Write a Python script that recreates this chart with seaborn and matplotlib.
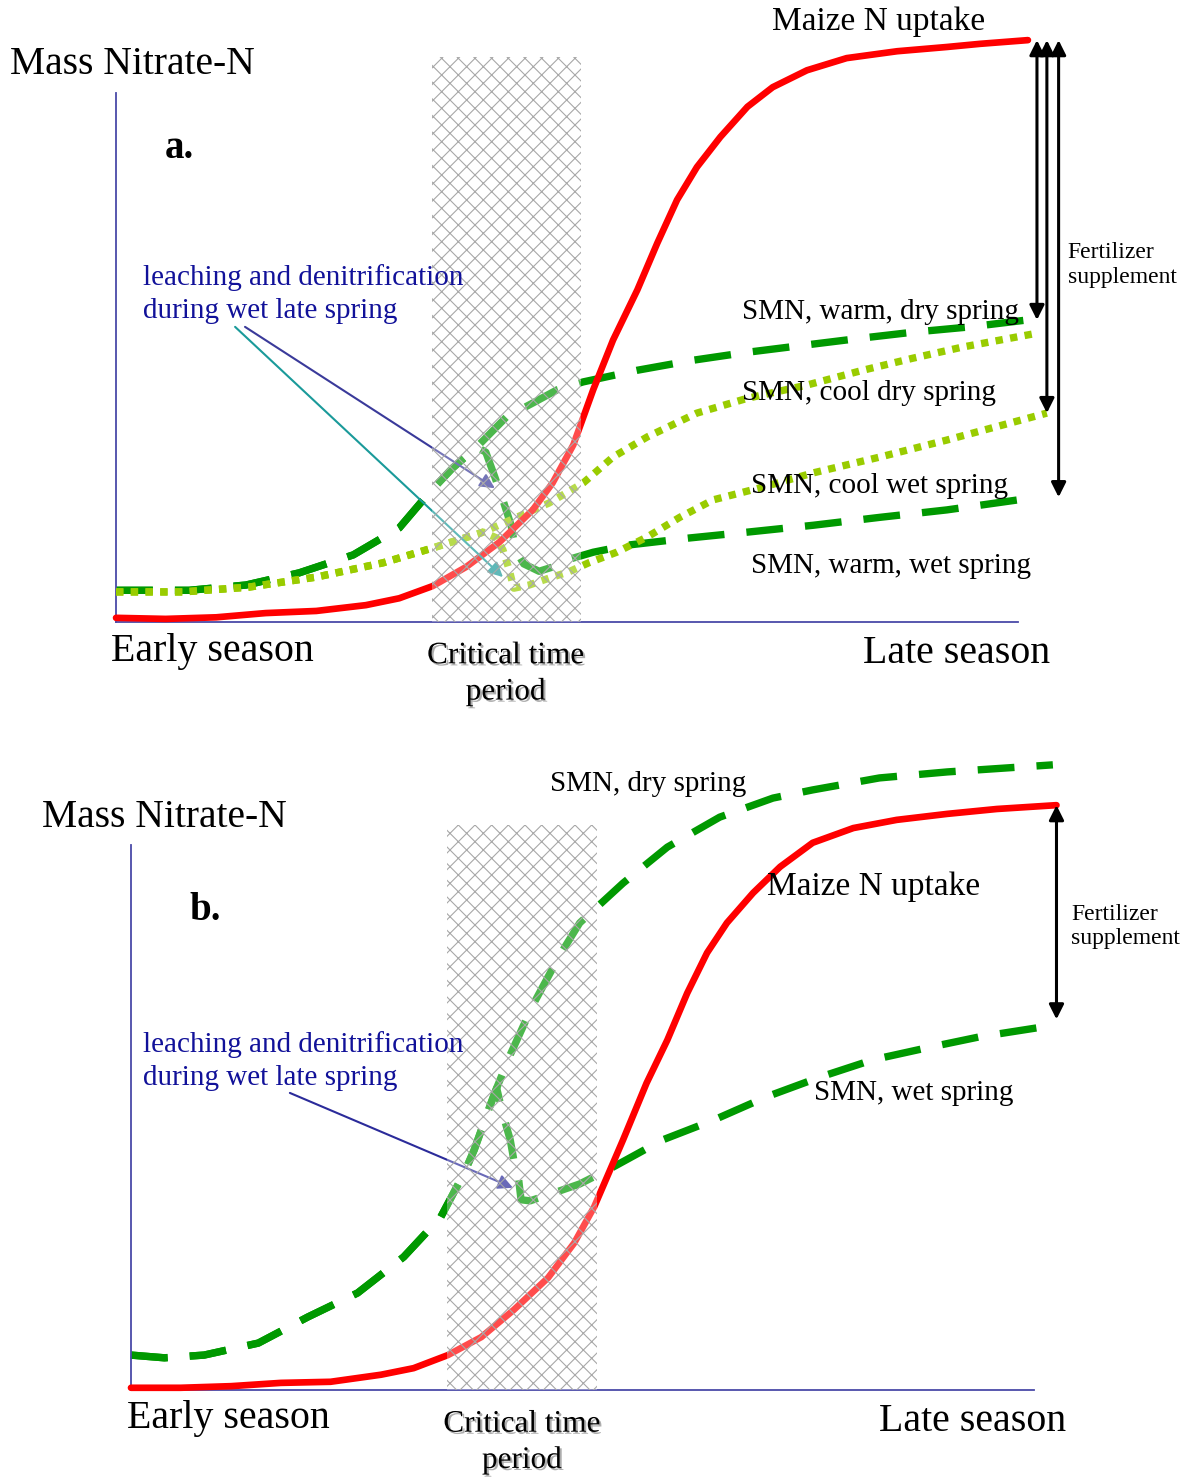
import matplotlib
matplotlib.use('Agg')
import matplotlib.pyplot as plt
import matplotlib.patches as mpatches
import matplotlib.patheffects as pe
import pandas as pd
import seaborn as sns

sns.set_style('white')
plt.rcParams['font.family'] = ['Liberation Serif', 'DejaVu Serif']
plt.rcParams['text.color'] = 'black'
plt.rcParams['hatch.linewidth'] = 0.8

RED = '#ff0000'
DKGREEN = '#009900'
LTGREEN = '#99cc00'
AXCOL = '#4a4aa8'
NAVY = '#111199'

# ---- panel a: season progress (0-100) vs relative nitrate mass ----
a_red_x = [0, 5.5, 11.1, 16.6, 22.2, 27.7, 31.4, 35.1, 38.8, 42.5, 46.2, 48.4, 50.7,
           52.9, 55.1, 57.8, 60.0, 62.2, 64.4, 67.0, 70.0, 72.8, 76.6, 81.0, 86.6,
           92.1, 95.8, 101.1]
a_red_y = [0.8, 0.6, 0.9, 1.7, 2.1, 3.2, 4.5, 6.8, 10.4, 15.1, 21.2, 26.3, 33.5,
           43.9, 53.3, 62.8, 71.6, 79.8, 86.0, 91.7, 97.4, 101.1, 104.3, 106.6, 107.9,
           108.7, 109.3, 110.0]

a_wdry_x = [0, 8.1, 14.4, 20.3, 26.3, 31.4, 34.7, 37.3, 40.0, 43.3, 46.2, 48.9, 51.8,
            57.8, 64.0, 70.0, 76.6, 82.8, 88.4, 94.7, 101.0]
a_wdry_y = [6.0, 6.0, 7.0, 9.3, 12.7, 17.8, 24.4, 29.1, 33.1, 38.8, 41.4, 43.9, 45.4,
            47.6, 49.5, 51.0, 52.4, 53.7, 54.8, 55.8, 57.1]
a_wwet_split = 9  # warm wet spring follows warm dry spring up to here
a_wwet_x = a_wdry_x[:a_wwet_split] + [41.0, 42.0, 43.0, 43.8, 44.3, 45.2, 46.9, 48.4,
                                      49.9, 52.9, 57.0, 63.6, 70.0, 77.3, 84.7, 92.1,
                                      102.1]
a_wwet_y = a_wdry_y[:a_wwet_split] + [32.1, 27.4, 22.5, 18.3, 13.6, 11.0, 9.6, 10.4,
                                      11.7, 13.2, 14.6, 15.9, 17.0, 18.3, 19.8, 21.2,
                                      23.6]

a_cdry_x = [0, 7.4, 14.7, 22.2, 29.6, 35.1, 40.7, 48.0, 51.8, 55.1, 58.9, 64.4, 70.0,
            76.6, 82.8, 88.4, 93.9, 102.1]
a_cdry_y = [5.7, 5.7, 6.6, 8.5, 11.2, 14.0, 17.0, 22.5, 26.3, 31.2, 35.0, 39.5, 42.3,
            44.8, 47.6, 49.9, 52.0, 54.6]
a_cwet_split = 7
a_cwet_x = a_cdry_x[:a_cwet_split] + [42.2, 42.9, 43.6, 44.1, 45.8, 48.0, 50.2, 52.4,
                                      55.5, 58.9, 62.5, 66.2, 71.7, 77.3, 84.7, 92.1,
                                      103.2]
a_cwet_y = a_cdry_y[:a_cwet_split] + [15.9, 13.6, 9.8, 6.4, 7.0, 8.3, 9.5, 11.2,
                                      13.2, 16.1, 19.8, 23.1, 25.5, 28.2, 31.2, 34.4,
                                      39.5]

# ---- panel b ----
b_red_x = [0, 5.5, 11.1, 16.6, 22.1, 27.7, 31.3, 35.1, 38.8, 42.4, 46.2, 49.1, 51.3,
           53.2, 54.5, 57.1, 59.4, 61.6, 63.8, 66.0, 68.9, 71.9, 75.5, 80.0, 84.8,
           90.4, 95.9, 102.5]
b_red_y = [0.4, 0.4, 0.7, 1.3, 1.5, 2.8, 4.0, 6.4, 9.7, 14.7, 20.6, 27.0, 33.6,
           40.9, 45.9, 56.3, 64.2, 72.8, 80.2, 85.7, 91.2, 96.0, 100.4, 103.1, 104.6,
           105.7, 106.6, 107.3]

b_dry_x = [0, 3.7, 8.1, 14.1, 19.6, 25.1, 30.2, 34.3, 36.9, 38.0, 39.8, 40.5, 42.0,
           44.5, 47.5, 49.7, 54.5, 59.4, 65.2, 71.1, 75.5, 82.9, 90.4, 102.1]
b_dry_y = [6.4, 5.9, 6.4, 8.6, 13.4, 17.8, 24.4, 31.7, 39.8, 44.0, 52.3, 55.4, 61.5,
           70.6, 79.8, 85.7, 93.0, 99.6, 105.1, 108.6, 110.1, 112.3, 113.4, 114.7]
b_wet_split = 12
b_wet_x = b_dry_x[:b_wet_split] + [41.2, 42.0, 42.4, 42.9, 43.2, 44.2, 46.2, 49.7,
                                   53.4, 58.9, 64.5, 70.4, 76.3, 82.2, 88.5, 94.0, 102.5]
b_wet_y = b_dry_y[:b_wet_split] + [50.5, 45.9, 42.2, 39.1, 34.9, 34.7, 35.8, 37.8,
                                   40.9, 45.9, 49.5, 53.8, 57.4, 60.6, 62.9, 64.8, 67.0]

crit_start, crit_end = 35.0, 51.6


def curve(ax, xs, ys, color, style, lw, z):
    df = pd.DataFrame({'x': xs, 'y': ys})
    sns.lineplot(data=df, x='x', y='y', ax=ax, color=color, lw=lw, sort=False,
                 linestyle=style, clip_on=False, zorder=z,
                 solid_capstyle='round', dash_capstyle='butt',
                 solid_joinstyle='round', dash_joinstyle='round')


def frame(ax):
    ax.set_xlim(0, 100)
    ax.set_ylim(0, 100)
    ax.set_xticks([])
    ax.set_yticks([])
    ax.set_xlabel('')
    ax.set_ylabel('')
    sns.despine(ax=ax)
    for s in ['left', 'bottom']:
        ax.spines[s].set_color(AXCOL)
        ax.spines[s].set_linewidth(1.3)
    ax.patch.set_alpha(0)


def crit_box(ax, top):
    r = mpatches.Rectangle((crit_start, 0), crit_end - crit_start, top,
                           facecolor=(1, 1, 1, 0.3), edgecolor='#a8a8a8',
                           linewidth=0, hatch='xx', zorder=5, clip_on=False)
    ax.add_patch(r)


def vert_arrow(ax, x, y0, y1):
    ax.annotate('', xy=(x, y1), xytext=(x, y0), annotation_clip=False, zorder=7,
                arrowprops=dict(arrowstyle='<|-|>', color='k', lw=2.2,
                                mutation_scale=22, shrinkA=0, shrinkB=0))


shadow = [pe.withSimplePatchShadow(offset=(1.5, -1.5), shadow_rgbFace='#777777', alpha=0.6)]
dash = (0, (5, 3))
dot = (0, (1, 1))

fig = plt.figure(figsize=(11.95, 14.79), dpi=100)
ax1 = fig.add_axes([0.0971, 0.5794, 0.7548, 0.3577])
ax2 = fig.add_axes([0.1096, 0.0602, 0.7556, 0.3685])

# panel a
curve(ax1, a_wdry_x, a_wdry_y, DKGREEN, dash, 5.3, 2)
curve(ax1, a_wwet_x, a_wwet_y, DKGREEN, dash, 5.3, 2)
curve(ax1, a_cdry_x, a_cdry_y, LTGREEN, dot, 5.3, 3)
curve(ax1, a_cwet_x, a_cwet_y, LTGREEN, dot, 5.3, 3)
curve(ax1, a_red_x, a_red_y, RED, '-', 4.8, 4)
frame(ax1)
crit_box(ax1, 106.8)

ax1.annotate('', xy=(42.0, 25.3), xytext=(14.3, 55.8), zorder=4,
             arrowprops=dict(arrowstyle='-|>', color='#3a3a9a', lw=1.5,
                             mutation_scale=22, shrinkA=0, shrinkB=0))
ax1.annotate('', xy=(42.9, 8.5), xytext=(13.2, 55.8), zorder=4,
             arrowprops=dict(arrowstyle='-|>', color='#1a9a9a', lw=1.5,
                             mutation_scale=22, shrinkA=0, shrinkB=0))
vert_arrow(ax1, 102.1, a_wdry_y[-1], a_red_y[-1])
vert_arrow(ax1, 103.2, a_cwet_y[-1], a_red_y[-1])
vert_arrow(ax1, 104.5, a_wwet_y[-1], a_red_y[-1])

t = dict(clip_on=False, zorder=8, va='center', ha='left')
ax1.text(-11.8, 105.3, 'Mass Nitrate-N', fontsize=28.5, **t)
ax1.text(5.4, 89.6, 'a.', fontsize=28, fontweight='bold', **t)
ax1.text(72.7, 113.4, 'Maize N uptake', fontsize=24, **t)
ax1.text(105.5, 67.5, 'Fertilizer\nsupplement', fontsize=17, **t)
ax1.text(69.4, 58.6, 'SMN, warm, dry spring', fontsize=21, **t)
ax1.text(69.4, 43.3, 'SMN, cool dry spring', fontsize=21, **t)
ax1.text(70.4, 25.7, 'SMN, cool wet spring', fontsize=21, **t)
ax1.text(70.4, 10.6, 'SMN, warm, wet spring', fontsize=21, **t)
ax1.text(3.0, 62.0, 'leaching and denitrification\nduring wet late spring',
         fontsize=21, color=NAVY, linespacing=1.35, **t)
ax1.text(-0.6, -5.5, 'Early season', fontsize=28.7, **t)
ax1.text(82.8, -5.9, 'Late season', fontsize=28.7, **t)
ax1.text(43.2, -9.8, 'Critical time\nperiod', fontsize=22.5, ha='center', va='center',
         clip_on=False, zorder=8, linespacing=1.3, path_effects=shadow)

# panel b
curve(ax2, b_dry_x, b_dry_y, DKGREEN, dash, 5.3, 2)
curve(ax2, b_wet_x, b_wet_y, DKGREEN, dash, 5.3, 2)
curve(ax2, b_red_x, b_red_y, RED, '-', 4.8, 4)
frame(ax2)
crit_box(ax2, 103.7)

ax2.annotate('', xy=(42.3, 37.1), xytext=(17.6, 54.5), zorder=4,
             arrowprops=dict(arrowstyle='-|>', color='#2b2b9a', lw=1.5,
                             mutation_scale=22, shrinkA=0, shrinkB=0))
vert_arrow(ax2, 102.5, b_wet_y[-1] + 1.0, b_red_y[-1])

ax2.text(-9.9, 105.0, 'Mass Nitrate-N', fontsize=28.5, **t)
ax2.text(6.5, 87.9, 'b.', fontsize=28, fontweight='bold', **t)
ax2.text(46.4, 111.2, 'SMN, dry spring', fontsize=21, **t)
ax2.text(70.4, 92.3, 'Maize N uptake', fontsize=24, **t)
ax2.text(104.1, 85.0, 'Fertilizer\nsupplement', fontsize=17, **t)
ax2.text(1.3, 60.4, 'leaching and denitrification\nduring wet late spring',
         fontsize=21, color=NAVY, linespacing=1.35, **t)
ax2.text(75.7, 54.5, 'SMN, wet spring', fontsize=21, **t)
ax2.text(-0.4, -5.3, 'Early season', fontsize=28.7, **t)
ax2.text(82.8, -5.7, 'Late season', fontsize=28.7, **t)
ax2.text(43.3, -9.6, 'Critical time\nperiod', fontsize=22.5, ha='center', va='center',
         clip_on=False, zorder=8, linespacing=1.3, path_effects=shadow)

fig.savefig('out.png', dpi=100)
